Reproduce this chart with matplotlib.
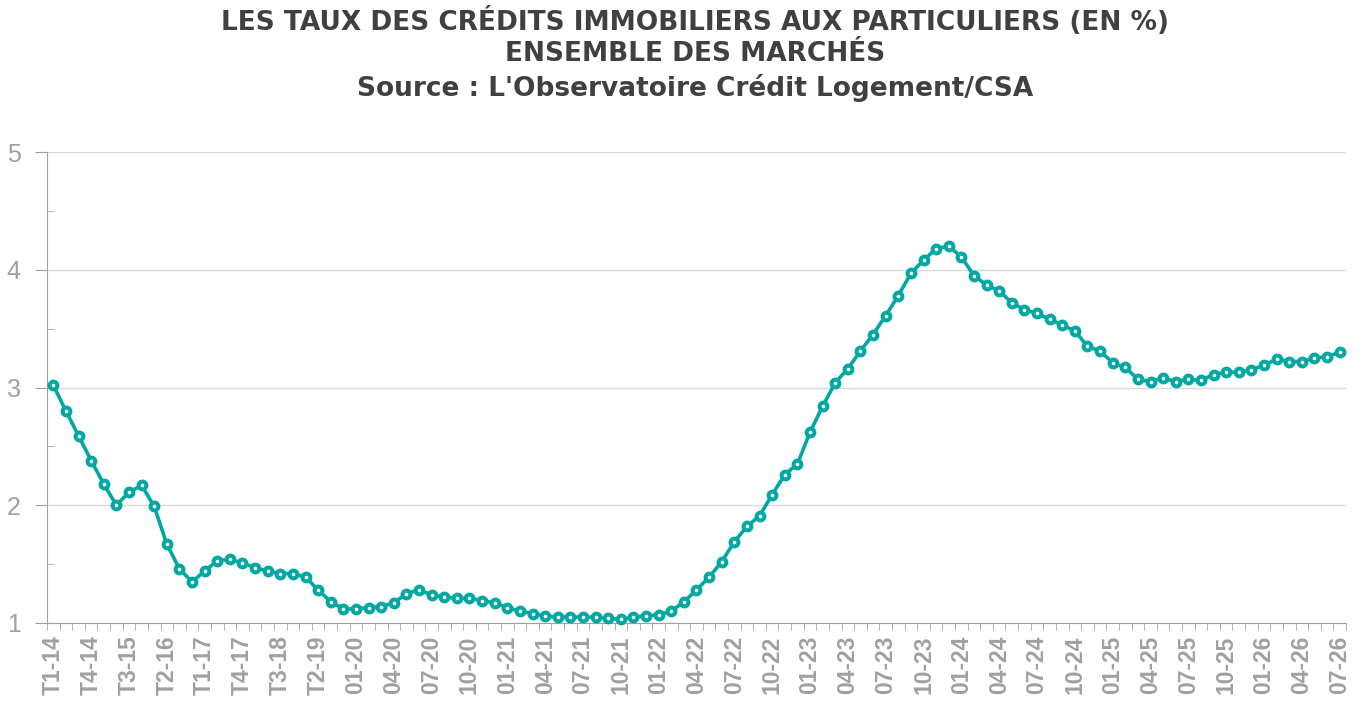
import matplotlib
matplotlib.use("Agg")
import matplotlib.pyplot as plt
from matplotlib.ticker import FixedLocator, MultipleLocator

# quarterly points 2014-2019, then monthly from 01-20 to 07-26
quarters = ["T%d-%02d" % (q, y) for y in range(14, 20) for q in range(1, 5)]
months = ["%02d-%02d" % (m, y) for y in range(20, 27) for m in range(1, 13)]
months = months[:months.index("07-26") + 1]
periods = quarters + months

taux = [3.02, 2.80, 2.59, 2.38, 2.18, 2.00, 2.11, 2.17, 1.99, 1.67,
        1.46, 1.35, 1.44, 1.53, 1.54, 1.51, 1.47, 1.44, 1.42, 1.42,
        1.39, 1.28, 1.18, 1.12,
        1.12, 1.13, 1.14, 1.17, 1.25, 1.28, 1.24, 1.22, 1.21, 1.21,
        1.19, 1.17, 1.13, 1.10, 1.08, 1.06, 1.05, 1.05, 1.05, 1.05,
        1.04, 1.03, 1.05, 1.06, 1.07, 1.10, 1.18, 1.28, 1.39, 1.52,
        1.69, 1.82, 1.91, 2.09, 2.26, 2.35, 2.62, 2.84, 3.04, 3.16,
        3.31, 3.45, 3.61, 3.78, 3.97, 4.08, 4.18, 4.20, 4.11, 3.95,
        3.87, 3.82, 3.72, 3.66, 3.63, 3.58, 3.53, 3.48, 3.35, 3.31,
        3.21, 3.17, 3.07, 3.05, 3.08, 3.05, 3.07, 3.06, 3.11, 3.13,
        3.13, 3.15, 3.19, 3.24, 3.22, 3.22, 3.25, 3.26, 3.30]

teal = "#00a8a3"
grey = "#a0a0a0"

fig = plt.figure(figsize=(13.69, 7.02), dpi=100)
ax = fig.add_axes([47 / 1369, 1 - 623 / 702, 1299 / 1369, 471 / 702])

x = list(range(len(periods)))
ax.plot(x, taux, color=teal, lw=2.6, marker="o", ms=5.6, solid_joinstyle="round",
        mfc="white", mec=teal, mew=2.9, zorder=3, clip_on=False)

ax.set_xlim(-0.5, len(periods) - 0.5)
ax.set_ylim(1, 5)

# labels every third period, ticks between categories
ax.set_xticks(x[::3])
ax.set_xticklabels(periods[::3], rotation=90, fontsize=16.5,
                   fontweight="bold", color=grey, family="Liberation Sans")
ax.xaxis.set_minor_locator(FixedLocator([i - 0.5 for i in range(len(periods) + 1)]))
ax.tick_params(axis="x", which="major", length=0, pad=9)
ax.tick_params(axis="x", which="minor", length=5, color=grey, direction="out")

ax.set_yticks([1, 2, 3, 4, 5])
ax.set_yticklabels(["1", "2", "3", "4", "5"], fontsize=18, color=grey,
                   family="Liberation Sans")
ax.yaxis.set_minor_locator(MultipleLocator(0.5))
ax.tick_params(axis="y", which="major", length=9, color=grey, direction="out", pad=10)
ax.tick_params(axis="y", which="minor", length=5, color=grey, direction="in")

ax.grid(axis="y", which="major", color="#d9d9d9", lw=1)
ax.set_axisbelow(True)
for s in ["top", "right"]:
    ax.spines[s].set_visible(False)
ax.spines["left"].set_color(grey)
ax.spines["bottom"].set_color(grey)

title_lines = ["LES TAUX DES CRÉDITS IMMOBILIERS AUX PARTICULIERS (EN %)",
               "ENSEMBLE DES MARCHÉS",
               "Source : L'Observatoire Crédit Logement/CSA"]
baselines = [30, 61, 96]
for line, b in zip(title_lines, baselines):
    fig.text(695 / 1369, 1 - b / 702, line, ha="center", va="baseline",
             fontsize=19, fontweight="bold", color="#404040", family="DejaVu Sans")

fig.savefig("out.png", dpi=100)
